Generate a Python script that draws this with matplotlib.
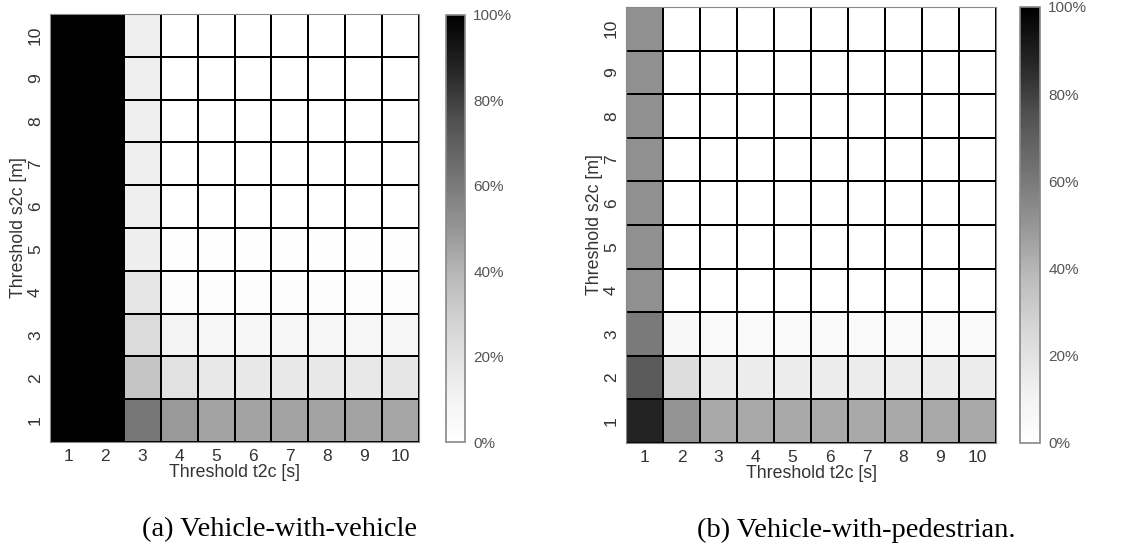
import numpy as np
import matplotlib
matplotlib.use('Agg')
import matplotlib.pyplot as plt
from matplotlib.ticker import FuncFormatter

plt.rcParams['font.family'] = ['Liberation Sans', 'DejaVu Sans']

T2C = list(range(1, 11))
S2C = list(range(1, 11))

# percent of events, rows = s2c 1..10, columns = t2c 1..10
veh_veh = [
    [100, 100, 61, 49, 46, 46, 46, 46, 46, 45],
    [100, 100, 34, 21, 17, 17, 17, 17, 17, 18],
    [100, 100, 24, 10, 8, 8, 8, 8, 8, 8],
    [100, 100, 18, 3, 2, 2, 2, 2, 2, 2],
    [100, 100, 14, 1, 1, 1, 1, 1, 1, 1],
    [100, 100, 13, 0, 0, 0, 0, 0, 0, 0],
    [100, 100, 13, 0, 0, 0, 0, 0, 0, 0],
    [100, 100, 13, 0, 0, 0, 0, 0, 0, 0],
    [100, 100, 13, 0, 0, 0, 0, 0, 0, 0],
    [100, 100, 13, 0, 0, 0, 0, 0, 0, 0],
]
veh_ped = [
    [88, 51, 44, 44, 44, 44, 44, 44, 44, 44],
    [72, 23, 15, 15, 15, 15, 15, 15, 15, 15],
    [60, 6, 5, 5, 5, 5, 5, 5, 5, 5],
    [52, 0, 0, 0, 0, 0, 0, 0, 0, 0],
    [52, 0, 0, 0, 0, 0, 0, 0, 0, 0],
    [52, 0, 0, 0, 0, 0, 0, 0, 0, 0],
    [52, 0, 0, 0, 0, 0, 0, 0, 0, 0],
    [52, 0, 0, 0, 0, 0, 0, 0, 0, 0],
    [52, 0, 0, 0, 0, 0, 0, 0, 0, 0],
    [52, 0, 0, 0, 0, 0, 0, 0, 0, 0],
]
CAPTIONS = ['(a) Vehicle-with-vehicle', '(b) Vehicle-with-pedestrian.']

W, H = 1137, 552
fig = plt.figure(figsize=(W / 100, H / 100), dpi=100)


def box(x0, y0, x1, y1):
    # pixel box (top-left origin) -> figure fraction
    return [x0 / W, 1 - y1 / H, (x1 - x0) / W, (y1 - y0) / H]


panels = [
    (veh_veh, box(50, 14, 419, 442), box(446, 15, 465, 442), 280),
    (veh_ped, box(626, 7, 996, 443), box(1020, 7, 1040, 443), 856),
]

txt = '#333333'
for (data, hbox, cbox, cx), cap in zip(panels, CAPTIONS):
    ax = fig.add_axes(hbox)
    vals = np.array(data) / 100.0
    xe = np.arange(len(T2C) + 1) + 0.5
    ye = np.arange(len(S2C) + 1) + 0.5
    mesh = ax.pcolormesh(xe, ye, vals, cmap='Greys', vmin=0, vmax=1,
                         edgecolors='black', linewidth=1.3)
    ax.set_xlim(0.5, 10.5)
    ax.set_ylim(0.5, 10.5)
    ax.set_xticks(T2C)
    ax.set_yticks(S2C)
    ax.set_yticklabels([str(v) for v in S2C], rotation=90, va='center')
    ax.tick_params(length=0, labelsize=12.5, labelcolor=txt, pad=5)
    ax.set_xlabel('Threshold t2c [s]', fontsize=12.8, color=txt, labelpad=0)
    ax.set_ylabel('Threshold s2c [m]', fontsize=12.8, color=txt, labelpad=1)
    for s in ax.spines.values():
        s.set_color('#888888')
        s.set_linewidth(0.8)

    cax = fig.add_axes(cbox)
    cb = fig.colorbar(mesh, cax=cax, ticks=[0, 0.2, 0.4, 0.6, 0.8, 1.0])
    cb.ax.yaxis.set_major_formatter(FuncFormatter(lambda v, p: f'{v * 100:.0f}%'))
    cb.ax.tick_params(length=0, labelsize=11, labelcolor='#555555', pad=6)
    cb.outline.set_edgecolor('#888888')
    cb.outline.set_linewidth(1.2)

    fig.text(cx / W, 1 - 530 / H, cap, ha='center', va='center',
             fontsize=20.5, family=['Liberation Serif', 'DejaVu Serif'],
             color='black')

fig.savefig('out.png', dpi=100, facecolor='white')
